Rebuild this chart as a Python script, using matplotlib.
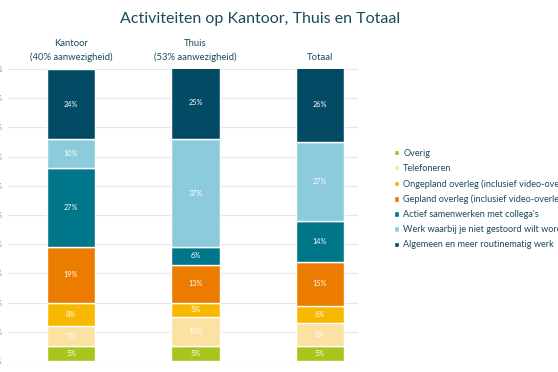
import matplotlib.pyplot as plt
import numpy as np

plt.rcParams['font.family'] = ['Lato', 'DejaVu Sans']

categories = ["Kantoor\n(40% aanwezigheid)", "Thuis\n(53% aanwezigheid)", "Totaal"]
activities = [
    "Overig",
    "Telefoneren",
    "Ongepland overleg (inclusief video-overleg)",
    "Gepland overleg (inclusief video-overleg)",
    "Actief samenwerken met collega's",
    "Werk waarbij je niet gestoord wilt worden",
    "Algemeen en meer routinematig werk",
]
# percentages per activity, order: Kantoor, Thuis, Totaal
values = {
    "Overig": [5, 5, 5],
    "Telefoneren": [7, 10, 8],
    "Ongepland overleg (inclusief video-overleg)": [8, 5, 6],
    "Gepland overleg (inclusief video-overleg)": [19, 13, 15],
    "Actief samenwerken met collega's": [27, 6, 14],
    "Werk waarbij je niet gestoord wilt worden": [10, 37, 27],
    "Algemeen en meer routinematig werk": [24, 25, 26],
}
colors = ["#A9C41C", "#FCE2A2", "#F8B800", "#EB7C00", "#00768B", "#8BCBDB", "#034B64"]

text_col = "#1A4A5C"

fig = plt.figure(figsize=(5.58, 3.72), dpi=100)
ax = fig.add_axes([8 / 558, 11 / 372, 350 / 558, 292 / 372])

x = np.arange(len(categories))
bottom = np.zeros(len(categories))
handles = []
for name, col in zip(activities, colors):
    vals = np.array(values[name], dtype=float)
    bars = ax.bar(x, vals, width=0.39, bottom=bottom, color=col,
                  edgecolor="white", linewidth=1.0, label=name)
    handles.append(bars)
    for xi, b, v in zip(x, bottom, vals):
        ax.text(xi, b + v / 2, f"{int(v)}%", ha="center", va="center",
                fontsize=5.2, color="white")
    bottom += vals

ax.set_ylim(0, 100)
ax.set_xlim(-0.507, 2.305)
ax.set_yticks(np.arange(0, 101, 10))
ax.set_yticklabels([f"{v}%" for v in range(0, 101, 10)], fontsize=5.5, color="#7F7F7F")
ax.yaxis.grid(True, color="#E4E8EA", linewidth=0.8)
ax.set_axisbelow(True)
for s in ax.spines.values():
    s.set_visible(False)
ax.tick_params(axis="y", length=0, pad=4)

ax.xaxis.tick_top()
ax.set_xticks(x)
ax.set_xticklabels(categories, fontsize=6.8, color=text_col, linespacing=1.6)
ax.tick_params(axis="x", length=0, pad=5)

fig.text(260 / 558, 1 - 19 / 372, "Activiteiten op Kantoor, Thuis en Totaal",
         ha="center", va="center", fontsize=11.5, color=text_col)

fig.legend(handles, activities, loc="upper left",
           bbox_to_anchor=(394 / 558, 1 - 149 / 372), frameon=False,
           fontsize=6.6, labelcolor=text_col, handlelength=0.5, handleheight=0.5,
           handletextpad=0.5, labelspacing=0.66, borderaxespad=0, borderpad=0)

fig.savefig("out.png", dpi=100)
